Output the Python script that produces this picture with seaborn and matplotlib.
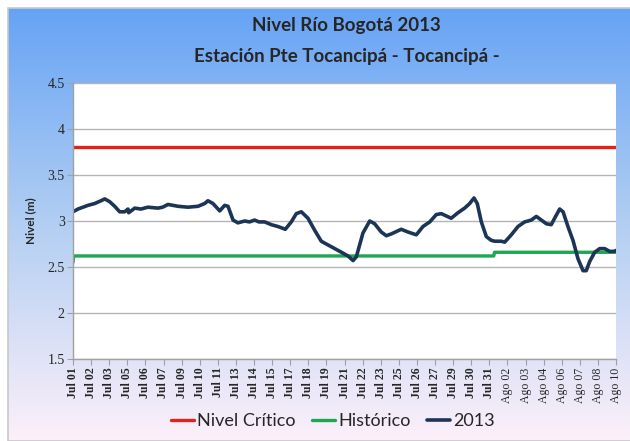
import numpy as np
import pandas as pd
import matplotlib
matplotlib.use("Agg")
import matplotlib.pyplot as plt
import seaborn as sns

# días desde Jul 01 (0) hasta Ago 10 (40)
dias = [0.00, 0.37, 1.10, 1.60, 2.06, 2.34, 2.70, 3.07, 3.44, 3.81, 4.05, 4.10, 4.55,
        5.0, 5.52, 6.26, 6.6, 7.00, 7.73, 8.47, 9.21, 9.70, 9.94, 10.31, 10.81, 11.17,
        11.42, 11.79, 12.15, 12.65, 13.0, 13.38, 13.7, 14.12, 14.61, 15.10, 15.64,
        16.08, 16.45, 16.82, 17.31, 17.80, 18.29, 19.03, 19.65, 20.26, 20.63, 20.87,
        21.36, 21.86, 22.22, 22.71, 23.08, 23.45, 24.18, 24.68, 25.29, 25.78, 26.28,
        26.76, 27.13, 27.86, 28.36, 28.85, 29.22, 29.54, 29.78, 30.08, 30.45, 30.81,
        31.06, 31.55, 31.80, 32.29, 32.78, 33.27, 33.76, 34.13, 34.50, 34.87, 35.23,
        35.48, 35.85, 36.10, 36.46, 36.83, 37.20, 37.57, 37.81, 38.06, 38.43, 38.80,
        39.16, 39.53, 39.90, 40.00]
nivel_2013 = [3.10, 3.13, 3.17, 3.19, 3.22, 3.24, 3.21, 3.16, 3.10, 3.10, 3.13, 3.09, 3.14,
              3.13, 3.15, 3.14, 3.15, 3.18, 3.16, 3.15, 3.16, 3.19, 3.22, 3.19, 3.11, 3.17,
              3.16, 3.01, 2.98, 3.00, 2.99, 3.01, 2.99, 2.99, 2.96, 2.94, 2.91,
              2.99, 3.08, 3.10, 3.03, 2.90, 2.78, 2.72, 2.67, 2.62, 2.57, 2.61,
              2.87, 3.00, 2.97, 2.88, 2.84, 2.86, 2.91, 2.88, 2.85, 2.94, 2.99,
              3.07, 3.08, 3.03, 3.09, 3.14, 3.19, 3.25, 3.19, 2.99, 2.83, 2.79,
              2.78, 2.78, 2.77, 2.85, 2.94, 2.99, 3.01, 3.05, 3.01, 2.97, 2.96,
              3.03, 3.13, 3.10, 2.94, 2.79, 2.59, 2.46, 2.46, 2.56, 2.66, 2.70,
              2.70, 2.67, 2.67, 2.68]

dias_ref = [0.0, 0.05, 31.0, 31.05, 40.0]
historico = [2.55, 2.62, 2.62, 2.66, 2.66]
nivel_critico = [3.80, 3.80]

etiquetas = ["Jul 01", "Jul 02", "Jul 03", "Jul 05", "Jul 06", "Jul 07", "Jul 09", "Jul 10",
             "Jul 11", "Jul 13", "Jul 14", "Jul 15", "Jul 17", "Jul 18", "Jul 19", "Jul 21",
             "Jul 22", "Jul 23", "Jul 25", "Jul 26", "Jul 27", "Jul 29", "Jul 30", "Jul 31",
             "Ago 02", "Ago 03", "Ago 04", "Ago 06", "Ago 07", "Ago 08", "Ago 10"]

sns.set_style("white")
plt.rcParams['font.family'] = ['Lato', 'DejaVu Sans']

fig = plt.figure(figsize=(6.3, 4.41), dpi=100)

# fondo degradado
bg = fig.add_axes([8 / 630, 0, 1 - 8 / 630, 1 - 8 / 441], zorder=-10)
grad = np.linspace(0, 1, 256)[:, None]
c_top = np.array([0.40, 0.64, 0.96])
c_mid = np.array([0.70, 0.81, 0.95])
c_bot = np.array([0.99, 0.94, 0.98])
col = np.where(grad < 0.5,
               c_top + (c_mid - c_top) * (grad / 0.5),
               c_mid + (c_bot - c_mid) * ((grad - 0.5) / 0.5))
img = np.repeat(col[:, None, :], 2, axis=1).reshape(256, 2, 3)
bg.imshow(img, aspect='auto', extent=[0, 1, 0, 1])
bg.set_axis_off()
fig.patches.append(plt.Rectangle((8 / 630, 0), 1, 1 - 8 / 441, transform=fig.transFigure,
                                 fill=False, edgecolor='#c8c8c8', linewidth=1.2, zorder=-5))

ax = fig.add_axes([73 / 630, 1 - 359 / 441, 543 / 630, 276 / 441])
ax.set_facecolor('white')

df_2013 = pd.DataFrame({'dia': dias, 'nivel': nivel_2013})
df_hist = pd.DataFrame({'dia': dias_ref, 'nivel': historico})
df_crit = pd.DataFrame({'dia': [0, 40], 'nivel': nivel_critico})

sns.lineplot(data=df_crit, x='dia', y='nivel', ax=ax, color='#e2201c', linewidth=2.4,
             label='Nivel Crítico', sort=False)
sns.lineplot(data=df_hist, x='dia', y='nivel', ax=ax, color='#1ea652', linewidth=2.4,
             label='Histórico', sort=False)
sns.lineplot(data=df_2013, x='dia', y='nivel', ax=ax, color='#1c3557', linewidth=2.6,
             label='2013', sort=False)

ax.set_xlim(0, 40)
ax.set_ylim(1.5, 4.5)
ax.set_yticks([1.5, 2, 2.5, 3, 3.5, 4, 4.5])
ax.set_yticklabels(["1.5", "2", "2.5", "3", "3.5", "4", "4.5"],
                   family='Liberation Serif', fontsize=10)
ax.yaxis.grid(True, color='#b4b4b4', linewidth=1)
ax.set_axisbelow(True)

pos = np.arange(len(etiquetas)) * 40 / (len(etiquetas) - 1)
ax.set_xticks(pos)
ax.set_xticklabels(etiquetas, rotation=90, family='Liberation Serif', fontsize=8.5)
for t in ax.get_xticklabels():
    if t.get_text().startswith('Jul'):
        t.set_fontweight('bold')
ax.tick_params(axis='both', which='both', length=4, color='#a0a0a0', direction='out',
               bottom=True, left=True, pad=2)

for s in ['top', 'right']:
    ax.spines[s].set_visible(False)
for s in ['left', 'bottom']:
    ax.spines[s].set_color('#a0a0a0')
    ax.spines[s].set_linewidth(1)

ax.set_xlabel('')
ax.set_ylabel('Nivel (m)', fontsize=8.5, fontweight='bold', labelpad=8)

ax.legend_.remove()
h, l = ax.get_legend_handles_labels()
fig.legend(h, l, loc='center', bbox_to_anchor=(0.528, 0.045), ncol=3, frameon=False,
           fontsize=13, handlelength=1.3, columnspacing=0.9, handletextpad=0.15)

fig.text(0.55, 0.943, 'Nivel Río Bogotá 2013', ha='center', va='center',
         fontsize=13.5, fontweight='bold')
fig.text(0.55, 0.873, 'Estación Pte Tocancipá - Tocancipá -', ha='center', va='center',
         fontsize=13.5, fontweight='bold')

fig.savefig('out.png', dpi=100)
